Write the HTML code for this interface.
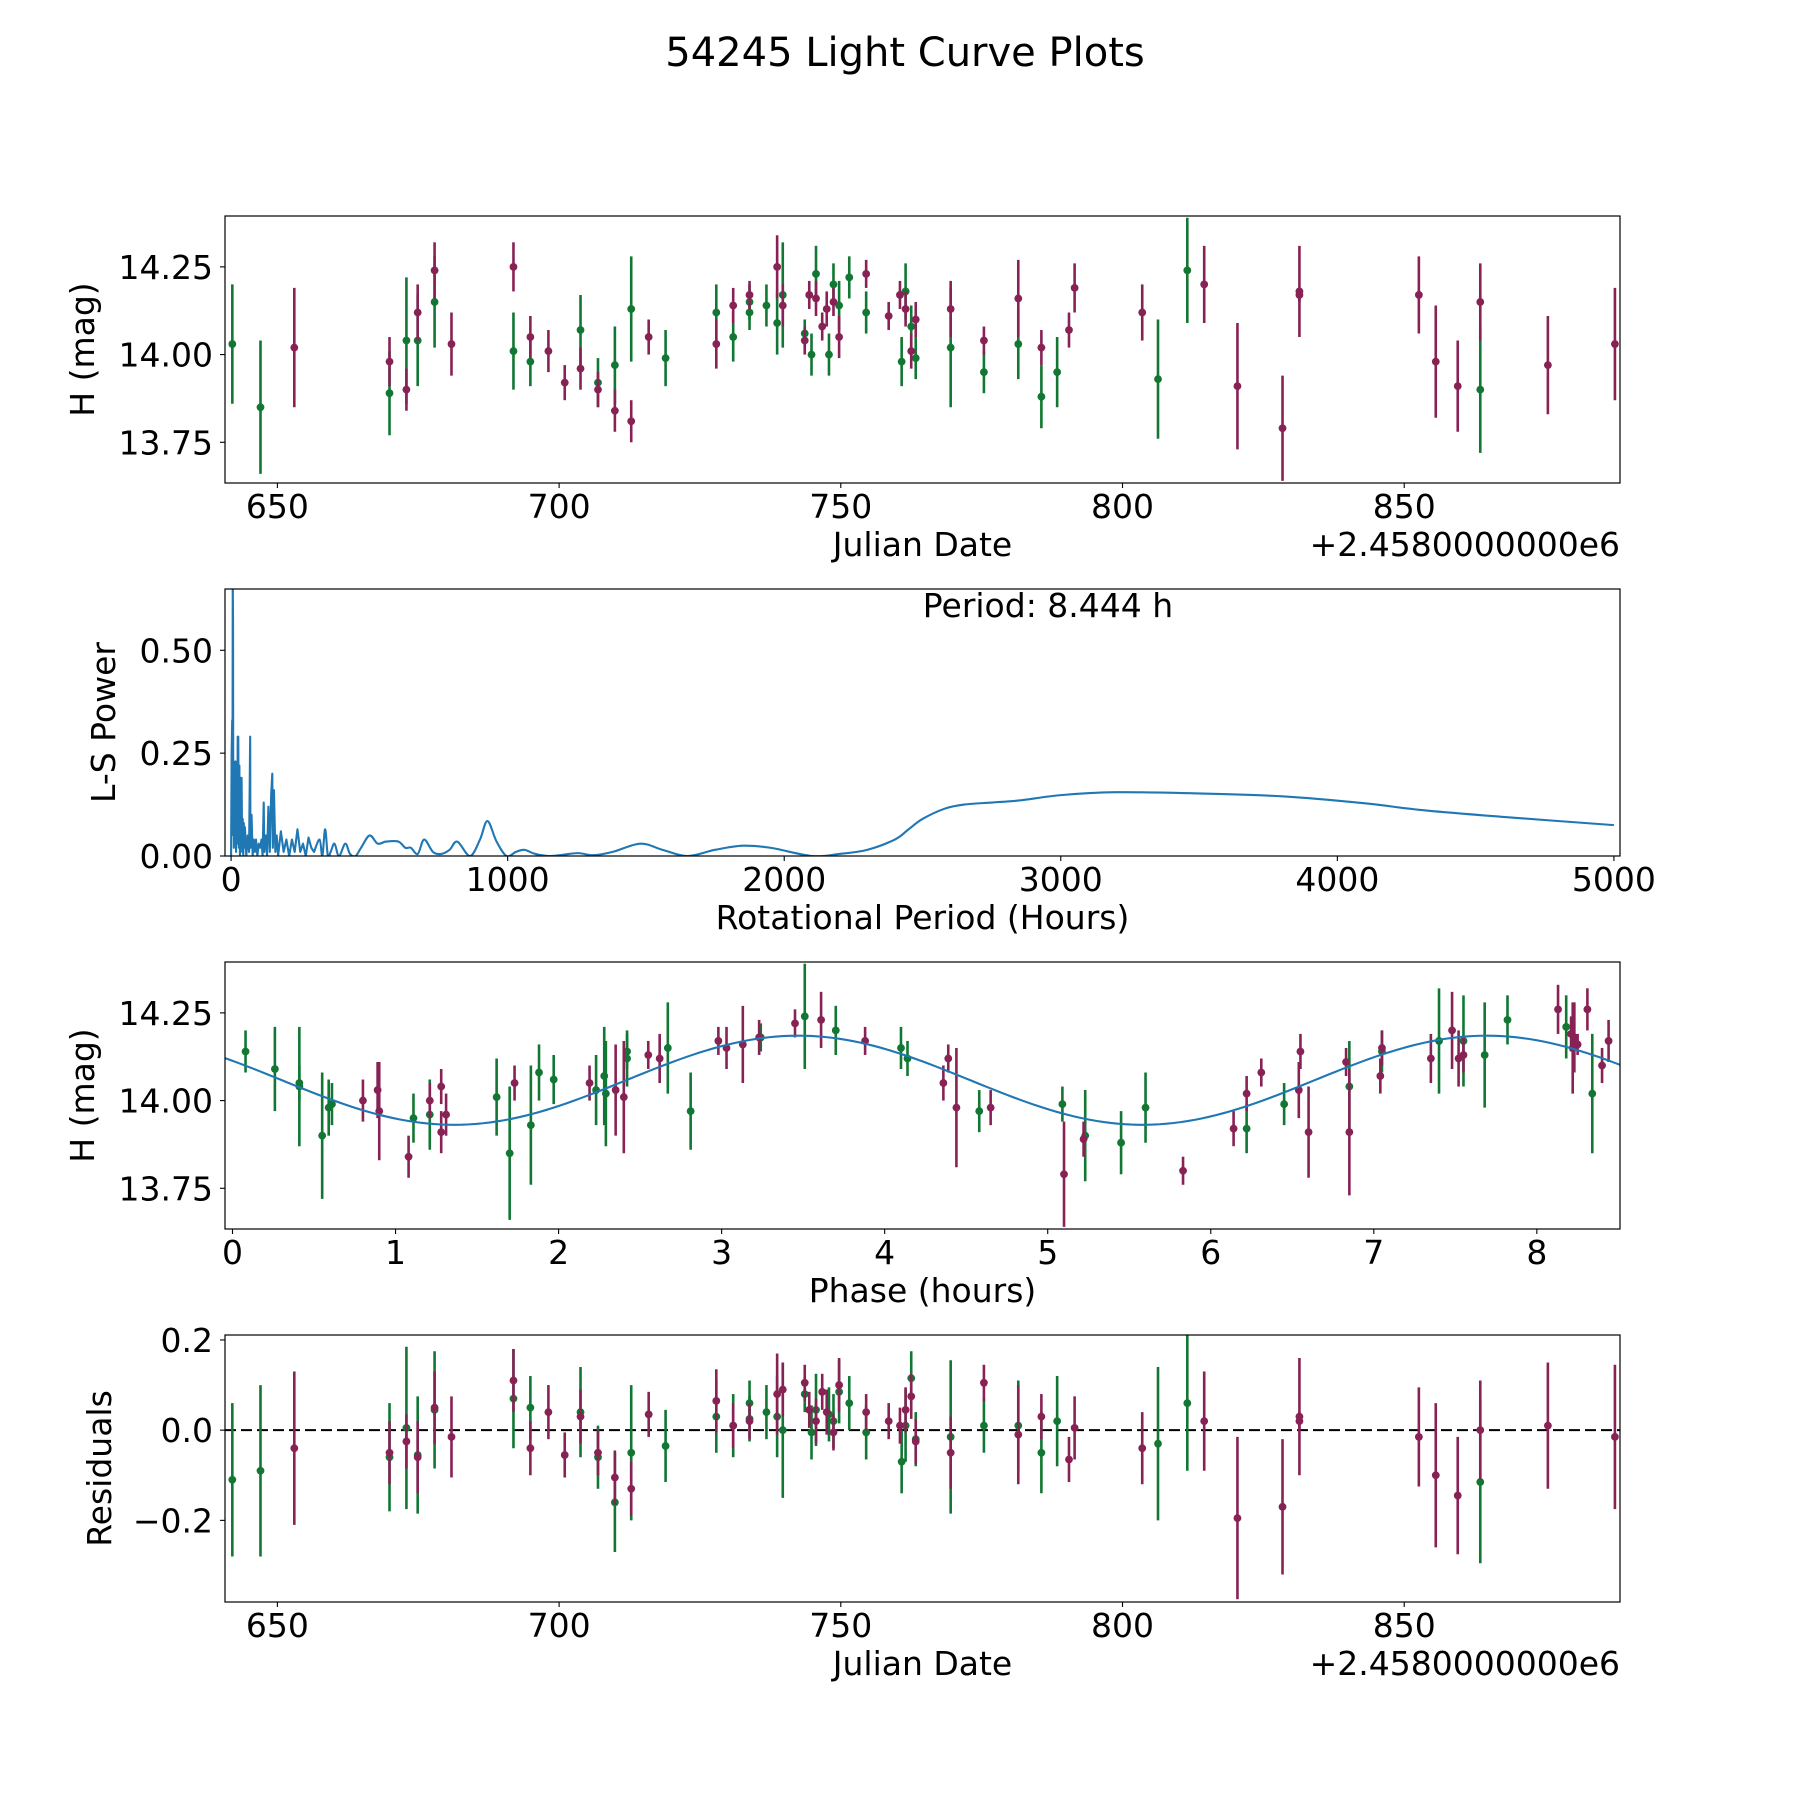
<!DOCTYPE html>
<html><head><meta charset="utf-8"><title>54245 Light Curve Plots</title>
<style>
html,body{margin:0;padding:0;background:#fff;}
svg{display:block;font-family:"DejaVu Sans","Liberation Sans",sans-serif;}
</style></head>
<body>
<svg id="fig" width="1800" height="1800" viewBox="0 0 1800 1800" xmlns="http://www.w3.org/2000/svg">
<rect x="0" y="0" width="1800" height="1800" fill="#fff"/>
<text x="905" y="66" text-anchor="middle" font-size="40" fill="#000">54245 Light Curve Plots</text>
</svg>
<script>
// ---------- data: light curve (Julian Date offset from 2458000) ----------
const jd = [642.0,647.0,653.0,669.9,669.9,672.9,672.9,674.9,674.9,677.9,677.9,680.9,691.9,691.9,694.9,694.9,698.1,701.0,703.8,703.8,706.9,706.9,709.9,709.9,712.8,712.8,715.9,718.9,727.9,727.9,730.9,730.9,733.8,733.8,733.8,736.8,738.7,738.7,739.7,739.7,743.6,743.6,744.4,744.8,745.6,745.6,746.7,747.5,747.9,748.7,748.7,749.7,749.7,751.5,754.5,754.5,758.5,760.5,760.8,761.5,761.5,762.5,762.5,763.3,763.3,769.5,769.5,775.4,775.4,781.5,781.5,785.6,785.6,788.4,790.5,791.5,803.5,806.3,811.5,814.5,820.4,828.4,831.4,831.4,852.6,855.6,859.5,863.5,863.5,875.5,887.4];
const mag = [14.03,13.85,14.02,13.98,13.89,14.04,13.90,14.12,14.04,14.24,14.15,14.03,14.25,14.01,14.05,13.98,14.01,13.92,13.96,14.07,13.90,13.92,13.84,13.97,14.13,13.81,14.05,13.99,14.12,14.03,14.14,14.05,14.17,14.12,14.15,14.14,14.25,14.09,14.14,14.17,14.04,14.06,14.17,14.00,14.23,14.16,14.08,14.13,14.00,14.20,14.15,14.05,14.14,14.22,14.23,14.12,14.11,14.17,13.98,14.18,14.13,14.01,14.08,14.10,13.99,14.13,14.02,14.04,13.95,14.16,14.03,14.02,13.88,13.95,14.07,14.19,14.12,13.93,14.24,14.20,13.91,13.79,14.18,14.17,14.17,13.98,13.91,14.15,13.90,13.97,14.03];
const magErr = [.17,.19,.17,.07,.12,.18,.06,.08,.13,.08,.13,.09,.07,.11,.06,.07,.06,.05,.06,.10,.05,.07,.06,.11,.15,.06,.05,.08,.08,.07,.05,.07,.04,.05,.05,.06,.09,.09,.06,.15,.04,.04,.04,.06,.08,.05,.04,.05,.06,.06,.04,.06,.07,.06,.04,.06,.04,.04,.07,.08,.05,.05,.06,.05,.06,.08,.17,.04,.06,.11,.10,.05,.09,.10,.05,.07,.08,.17,.15,.11,.18,.15,.13,.02,.11,.16,.13,.11,.18,.14,.16];
const band = ["g","g","m","m","g","g","m","m","g","m","g","m","m","g","m","g","m","m","m","g","m","g","m","g","g","m","m","g","g","m","m","g","m","g","g","g","m","g","m","g","m","g","m","g","g","m","m","m","g","g","m","m","g","g","m","g","m","m","g","g","m","m","g","m","g","m","g","m","g","m","g","m","g","g","m","m","m","g","g","m","m","m","m","m","m","m","m","m","g","m","m"];
const resid = [-0.11,-0.09,-0.04,-0.05,-0.06,0.005,-0.025,-0.06,-0.055,0.05,0.045,-0.015,0.11,0.07,-0.04,0.05,0.04,-0.055,0.03,0.04,-0.05,-0.06,-0.105,-0.16,-0.05,-0.13,0.035,-0.035,0.03,0.065,0.01,0.01,0.02,0.06,0.025,0.04,0.08,0.03,0.09,0.0,0.105,0.08,0.045,-0.005,0.045,0.02,0.085,0.04,0.035,0.02,-0.005,0.1,0.085,0.06,0.04,-0.005,0.02,0.01,-0.07,0.01,0.045,0.075,0.115,-0.025,-0.02,-0.05,-0.015,0.105,0.01,-0.01,0.01,0.03,-0.05,0.02,-0.065,0.005,-0.04,-0.03,0.06,0.02,-0.195,-0.17,0.03,0.02,-0.015,-0.1,-0.145,0.0,-0.115,0.01,-0.015];

// ---------- data: phase-folded ----------
const phase = [0.08,0.26,0.41,0.41,0.55,0.59,0.61,0.80,0.89,0.90,1.08,1.11,1.21,1.21,1.28,1.28,1.31,1.62,1.70,1.73,1.83,1.88,1.97,2.19,2.23,2.28,2.29,2.35,2.40,2.42,2.42,2.55,2.62,2.67,2.81,2.98,3.03,3.13,3.23,3.24,3.45,3.51,3.61,3.70,3.88,4.10,4.14,4.36,4.39,4.44,4.58,4.65,5.09,5.10,5.22,5.23,5.45,5.60,5.83,6.14,6.22,6.22,6.31,6.45,6.54,6.55,6.60,6.83,6.85,6.85,7.04,7.05,7.05,7.35,7.40,7.48,7.52,7.55,7.55,7.68,7.82,8.13,8.18,8.21,8.22,8.23,8.25,8.31,8.34,8.40,8.44];
const phaseMag = [14.14,14.09,14.04,14.05,13.90,13.98,13.99,14.00,14.03,13.97,13.84,13.95,14.00,13.96,14.04,13.91,13.96,14.01,13.85,14.05,13.93,14.08,14.06,14.05,14.03,14.07,14.02,14.03,14.01,14.14,14.12,14.13,14.12,14.15,13.97,14.17,14.15,14.16,14.18,14.18,14.22,14.24,14.23,14.20,14.17,14.15,14.12,14.05,14.12,13.98,13.97,13.98,13.99,13.79,13.89,13.90,13.88,13.98,13.80,13.92,14.02,13.92,14.08,13.99,14.03,14.14,13.91,14.11,14.04,13.91,14.07,14.14,14.15,14.12,14.17,14.20,14.12,14.13,14.17,14.13,14.23,14.26,14.21,14.19,14.15,14.18,14.16,14.26,14.02,14.10,14.17];
const phaseErr = [.06,.12,.17,.05,.18,.08,.06,.06,.08,.14,.06,.07,.05,.10,.05,.06,.06,.11,.19,.05,.17,.08,.07,.05,.10,.14,.15,.13,.16,.05,.08,.04,.07,.13,.11,.04,.06,.11,.05,.04,.04,.15,.08,.07,.04,.06,.05,.05,.04,.17,.06,.05,.05,.15,.05,.13,.09,.10,.04,.05,.05,.07,.04,.06,.08,.05,.13,.04,.13,.18,.05,.06,.05,.07,.15,.11,.08,.05,.13,.15,.07,.07,.09,.05,.13,.10,.03,.06,.17,.05,.06];
const phaseBand = ["g","g","g","g","g","g","g","m","m","m","m","g","m","g","m","m","m","g","g","m","g","g","g","m","g","g","g","m","m","g","g","m","m","g","g","m","m","m","m","g","m","g","m","g","m","g","g","m","m","m","g","m","g","m","m","g","g","g","m","m","m","g","m","g","m","m","m","m","g","m","m","g","m","m","g","m","m","m","g","g","g","m","g","m","m","m","m","m","g","m","m"];
// fitted model: mean, amplitude, peak phase, half period (h)
const modelParams = [14.058, 0.127, 3.47, 4.222];

// ---------- data: Lomb-Scargle periodogram ----------
const lsPeriod = [0,2,4,5,6,7,8,9,10,12,14,16,18,20,22,24,25,26,28,30,32,34,36,38,40,42,44,46,48,50,55,60,65,69,70,74,78,82,86,90,95,100,105,110,114,118,120,125,130,135,140,145,149,151,155,160,165,170,180,190,200,210,220,230,240,250,260,270,280,290,300,320,330,340,350,360,374,390,413,430,450,470,501,530,560,605,630,650,675,698,730,760,790,818,864,900,927,960,996,1030,1060,1100,1150,1200,1255,1310,1380,1480,1560,1650,1750,1850,1950,2100,2200,2300,2400,2450,2500,2580,2650,2750,2850,3000,3200,3500,3800,4100,4300,4600,5000];
const lsPower = [0.0,0.25,0.33,0.1,0.68,0.57,0.05,0.23,0.02,0.22,0.05,0.23,0.01,0.18,0.03,0.29,0.1,0.29,0.02,0.22,0.0,0.19,0.04,0.19,0.01,0.09,0.0,0.08,0.02,0.07,0.0,0.05,0.01,0.29,0.02,0.10,0.0,0.04,0.01,0.04,0.0,0.03,0.02,0.04,0.0,0.13,0.01,0.05,0.0,0.12,0.01,0.15,0.2,0.02,0.16,0.01,0.05,0.0,0.06,0.01,0.04,0.0,0.04,0.01,0.065,0.01,0.03,0.0,0.045,0.02,0.01,0.04,0.0,0.065,0.0,0.01,0.03,0.0,0.03,0.005,0.0,0.02,0.05,0.03,0.035,0.035,0.02,0.02,0.005,0.04,0.01,0.005,0.015,0.035,0.0,0.04,0.085,0.035,0.0,0.01,0.015,0.005,0.0,0.003,0.007,0.002,0.01,0.03,0.015,0.0,0.015,0.025,0.02,0.0,0.005,0.015,0.04,0.065,0.09,0.115,0.125,0.13,0.135,0.148,0.155,0.152,0.145,0.128,0.112,0.095,0.075];

// ---------- ticks ----------
const jdTicks = [650,700,750,800,850];
const jdTickLabels = ["650","700","750","800","850"];
const magTicks = [13.75,14.00,14.25];
const magTickLabels = ["13.75","14.00","14.25"];
const lsXTicks = [0,1000,2000,3000,4000,5000];
const lsXTickLabels = ["0","1000","2000","3000","4000","5000"];
const lsYTicks = [0,0.25,0.5];
const lsYTickLabels = ["0.00","0.25","0.50"];
const phaseTicks = [0,1,2,3,4,5,6,7,8];
const phaseTickLabels = ["0","1","2","3","4","5","6","7","8"];
const resTicks = [-0.2,0,0.2];
const resTickLabels = ["\u22120.2","0.0","0.2"];

// ---------- layout ----------
const NS = "http://www.w3.org/2000/svg";
const svg = document.getElementById("fig");
const L = 225, R = 1620, H = 267;
const tops = [216, 589, 962, 1335];
const COLORS = {g: "#117733", m: "#882255"};

function mk(tag, parent, attrs) {
  const e = document.createElementNS(NS, tag);
  for (const k in attrs) e.setAttribute(k, attrs[k]);
  parent.appendChild(e);
  return e;
}
function lin(d0, d1, r0, r1) { return v => r0 + (v - d0) * (r1 - r0) / (d1 - d0); }

const defs = mk("defs", svg, {});
function makePanel(i, name, xd, yd) {
  const top = tops[i], bot = top + H;
  const g = mk("g", svg, {});
  
  
  const cp = mk("clipPath", defs, {id: "clip" + i});
  mk("rect", cp, {x: L, y: top, width: R - L, height: H});
  const plot = mk("g", g, {"clip-path": "url(#clip" + i + ")"});
  
  
  return {g, plot, top, bot, x: lin(xd[0], xd[1], L, R), y: lin(yd[0], yd[1], bot, top)};
}
function frame(p, name) {
  const r = mk("rect", p.g, {x: L, y: p.top, width: R - L, height: H, fill: "none", stroke: "#000", "stroke-width": 1.2});
  
  
}
function xTicks(p, name, vals, labels) {
  vals.forEach((v, k) => {
    const X = p.x(v);
    const t = mk("line", p.g, {x1: X, x2: X, y1: p.bot, y2: p.bot + 5, stroke: "#000", "stroke-width": 1.1});
    
    
    const tx = mk("text", p.g, {x: X, y: p.bot + 35, "text-anchor": "middle", "font-size": 33, fill: "#000"});
    tx.textContent = labels[k];
    
    
  });
}
function yTicks(p, name, vals, labels) {
  vals.forEach((v, k) => {
    const Y = p.y(v);
    const t = mk("line", p.g, {x1: L - 5, x2: L, y1: Y, y2: Y, stroke: "#000", "stroke-width": 1.1});
    
    
    const tx = mk("text", p.g, {x: 213, y: Y + 12, "text-anchor": "end", "font-size": 33, fill: "#000"});
    tx.textContent = labels[k];
    
    
  });
}
function label(p, name, xText, yText, yx, offset) {
  const xl = mk("text", p.g, {x: (L + R) / 2, y: p.bot + 73, "text-anchor": "middle", "font-size": 33, fill: "#000"});
  xl.textContent = xText;
  
  
  const cy = (p.top + p.bot) / 2;
  const yl = mk("text", p.g, {x: yx, y: cy, "text-anchor": "middle", "font-size": 33, fill: "#000", transform: "rotate(-90 " + yx + " " + cy + ")"});
  yl.textContent = yText;
  
  
  if (offset) {
    const o = mk("text", p.g, {x: R, y: p.bot + 73, "text-anchor": "end", "font-size": 33, fill: "#000"});
    o.textContent = offset;
    
    
  }
}
function errPoints(p, name, xs, ys, es, bs) {
  ["g", "m"].forEach(b => {
    xs.forEach((xv, k) => {
      if (bs[k] !== b) return;
      const X = p.x(xv), Y = p.y(ys[k]);
      const bar = mk("line", p.plot, {x1: X, x2: X, y1: p.y(ys[k] - es[k]), y2: p.y(ys[k] + es[k]), stroke: COLORS[b], "stroke-width": 2.6});
      
      
      const c = mk("circle", p.plot, {cx: X, cy: Y, r: 3.9, fill: COLORS[b]});
      
      
    });
  });
}

// Panel 1: light curve
const p1 = makePanel(0, "light-curve-panel", [640.7, 888.3], [13.634, 14.395]);
errPoints(p1, "light-curve", jd, mag, magErr, band);
frame(p1, "light-curve");
xTicks(p1, "light-curve", jdTicks, jdTickLabels);
yTicks(p1, "light-curve", magTicks, magTickLabels);
label(p1, "light-curve", "Julian Date", "H (mag)", 94, "+2.4580000000e6");

// Panel 2: periodogram (straight segments for noisy part, smooth curve beyond)
const p2 = makePanel(1, "periodogram-panel", [-22, 5022], [0, 0.649]);
const pts = lsPeriod.map((v, k) => [p2.x(v), p2.y(lsPower[k])]);
const split = lsPeriod.findIndex(v => v >= 300);
let d = "M" + pts[0][0].toFixed(2) + "," + pts[0][1].toFixed(2);
for (let k = 1; k <= split; k++) d += " L" + pts[k][0].toFixed(2) + "," + pts[k][1].toFixed(2);
for (let k = split; k < pts.length - 1; k++) {
  const a = pts[Math.max(k - 1, split)], b = pts[k], c = pts[k + 1], e = pts[Math.min(k + 2, pts.length - 1)];
  const c1 = [b[0] + (c[0] - a[0]) / 6, b[1] + (c[1] - a[1]) / 6];
  const c2 = [c[0] - (e[0] - b[0]) / 6, c[1] - (e[1] - b[1]) / 6];
  d += " C" + c1[0].toFixed(2) + "," + c1[1].toFixed(2) + " " + c2[0].toFixed(2) + "," + c2[1].toFixed(2) + " " + c[0].toFixed(2) + "," + c[1].toFixed(2);
}
const lsLine = mk("path", p2.plot, {d: d, fill: "none", stroke: "#1f77b4", "stroke-width": 2.1, "stroke-linejoin": "round"});


frame(p2, "periodogram");
xTicks(p2, "periodogram", lsXTicks, lsXTickLabels);
yTicks(p2, "periodogram", lsYTicks, lsYTickLabels);
label(p2, "periodogram", "Rotational Period (Hours)", "L-S Power", 115, null);
const per = mk("text", p2.g, {x: 1048, y: 617, "text-anchor": "middle", "font-size": 33, fill: "#000"});
per.textContent = "Period: 8.444 h";



// Panel 3: phase folded
const p3 = makePanel(2, "phase-panel", [-0.046, 8.51], [13.634, 14.395]);
const mp = [];
for (let s = 0; s <= 200; s++) {
  const ph = -0.046 + s * (8.51 + 0.046) / 200;
  const v = modelParams[0] + modelParams[1] * Math.cos(2 * Math.PI * (ph - modelParams[2]) / modelParams[3]);
  mp.push(p3.x(ph).toFixed(2) + "," + p3.y(v).toFixed(2));
}
errPoints(p3, "phase", phase, phaseMag, phaseErr, phaseBand);
const model = mk("polyline", p3.plot, {points: mp.join(" "), fill: "none", stroke: "#1f77b4", "stroke-width": 2.1});


frame(p3, "phase");
xTicks(p3, "phase", phaseTicks, phaseTickLabels);
yTicks(p3, "phase", magTicks, magTickLabels);
label(p3, "phase", "Phase (hours)", "H (mag)", 94, null);

// Panel 4: residuals
const p4 = makePanel(3, "residuals-panel", [640.7, 888.3], [-0.381, 0.211]);
const zl = mk("line", p4.plot, {x1: L, x2: R, y1: p4.y(0), y2: p4.y(0), stroke: "#000", "stroke-width": 2, "stroke-dasharray": "11,5"});


errPoints(p4, "residuals", jd, resid, magErr, band);
frame(p4, "residuals");
xTicks(p4, "residuals", jdTicks, jdTickLabels);
yTicks(p4, "residuals", resTicks, resTickLabels);
label(p4, "residuals", "Julian Date", "Residuals", 111, "+2.4580000000e6");
</script>
</body></html>
